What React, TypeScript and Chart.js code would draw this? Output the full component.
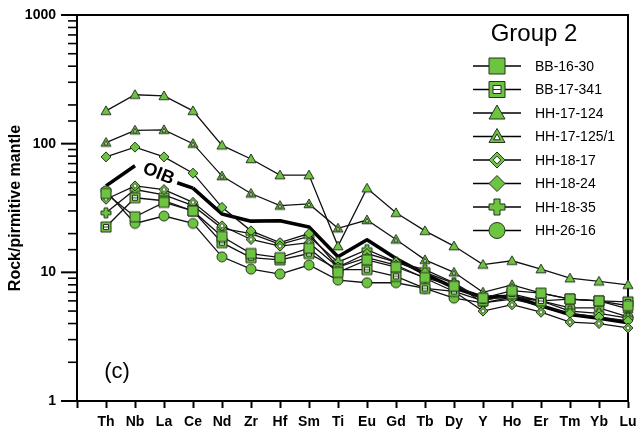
import React, { useEffect, useRef } from 'react';
import { Chart, registerables } from 'chart.js';

Chart.register(...registerables);

// ---------- data ----------
const elements = ['Th', 'Nb', 'La', 'Ce', 'Nd', 'Zr', 'Hf', 'Sm', 'Ti', 'Eu', 'Gd', 'Tb', 'Dy', 'Y', 'Ho', 'Er', 'Tm', 'Yb', 'Lu'];
const yTickLabels = [1, 10, 100, 1000];

const bb1630 = [41, 27, 35, 30, 19, 14, 13, 15.4, 10, 12.5, 11, 9.1, 7.8, 6.3, 7.2, 6.9, 6.2, 6, 5.5];
const bb17341 = [22.5, 38, 36, 30, 17, 13, 12.5, 14, 10.5, 10.5, 9.3, 7.5, 7.1, 6, 6.8, 6, 6.2, 6, 5.9];
const hh17124 = [180, 240, 235, 180, 97, 76, 57, 57, 16, 45, 29, 21, 16, 11.5, 12.3, 10.6, 9, 8.5, 8];
const hh171251 = [102, 127, 128, 100, 56, 41, 33, 34, 22, 25.5, 18, 12.5, 10, 7, 8, 6.9, 6.2, 6, 5.2];
const hh1817 = [37, 47, 44, 35, 23, 18, 16, 17, 11, 13, 11.4, 9, 7.1, 5, 5.6, 4.9, 4.1, 4, 3.7];
const hh1824 = [79, 94, 79, 59, 32, 21, 17, 20, 11, 14, 12, 10, 8.2, 5.8, 6.2, 5.5, 4.8, 4.5, 4.2];
const hh1835 = [29, 44, 40, 33, 22, 20, 16.5, 19, 12, 15, 12, 10.5, 8.3, 6.1, 6.6, 6, 5, 4.8, 4.4];
const hh2616 = [43, 24, 27.4, 24, 13.2, 10.6, 9.7, 11.4, 8.7, 8.3, 8.3, 7.5, 6.3, 5.8, 6.4, 6, 5.3, 5.3, 4.5];
const oib = [47, 67.4, 53.9, 45.1, 28.4, 25, 25.2, 22.5, 13.2, 17.9, 12.8, 9.7, 7.6, 6.4, 6.5, 5.5, 4.7, 4.4, 4.05];

const sampleNames = ['BB-16-30', 'BB-17-341', 'HH-17-124', 'HH-17-125/1', 'HH-18-17', 'HH-18-24', 'HH-18-35', 'HH-26-16'];
const sampleValues = [bb1630, bb17341, hh17124, hh171251, hh1817, hh1824, hh1835, hh2616];
const legendTitle = 'Group 2';
const oibLabel = 'OIB';
const panelLabel = '(c)';
const yTitle = 'Rock/pirmitive mantle';

// ---------- styles ----------
const sampleMarkers = ['square', 'squareHollow', 'triangle', 'triangleHollow', 'diamondHollow', 'diamond', 'plus', 'circle'];
const GREEN = '#6cc441';
const STROKE = '#27331f';
const FONT = "'Liberation Sans', Arial, Helvetica, sans-serif";

function drawMarker(ctx: CanvasRenderingContext2D, type: string, cx: number, cy: number, r: number) {
  ctx.save();
  ctx.fillStyle = GREEN;
  ctx.strokeStyle = STROKE;
  ctx.lineWidth = 1;
  ctx.lineJoin = 'miter';
  ctx.beginPath();
  if (type === 'square' || type === 'squareHollow') {
    ctx.rect(cx - r, cy - r, 2 * r, 2 * r);
  } else if (type === 'triangle' || type === 'triangleHollow') {
    ctx.moveTo(cx, cy - r);
    ctx.lineTo(cx + r, cy + r * 0.75);
    ctx.lineTo(cx - r, cy + r * 0.75);
    ctx.closePath();
  } else if (type === 'diamond' || type === 'diamondHollow') {
    ctx.moveTo(cx, cy - r);
    ctx.lineTo(cx + r, cy);
    ctx.lineTo(cx, cy + r);
    ctx.lineTo(cx - r, cy);
    ctx.closePath();
  } else if (type === 'plus') {
    const w = r * 0.38;
    ctx.moveTo(cx - w, cy - r);
    ctx.lineTo(cx + w, cy - r);
    ctx.lineTo(cx + w, cy - w);
    ctx.lineTo(cx + r, cy - w);
    ctx.lineTo(cx + r, cy + w);
    ctx.lineTo(cx + w, cy + w);
    ctx.lineTo(cx + w, cy + r);
    ctx.lineTo(cx - w, cy + r);
    ctx.lineTo(cx - w, cy + w);
    ctx.lineTo(cx - r, cy + w);
    ctx.lineTo(cx - r, cy - w);
    ctx.lineTo(cx - w, cy - w);
    ctx.closePath();
  } else {
    ctx.arc(cx, cy, r, 0, Math.PI * 2);
  }
  ctx.fill();
  ctx.stroke();
  ctx.fillStyle = '#fff';
  if (type === 'squareHollow') {
    const s = r * 0.5;
    ctx.beginPath();
    ctx.rect(cx - s, cy - s, 2 * s, 2 * s);
    ctx.fill();
    ctx.stroke();
    ctx.beginPath();
    ctx.moveTo(cx - s, cy);
    ctx.lineTo(cx + s, cy);
    ctx.stroke();
  } else if (type === 'triangleHollow') {
    const k = 0.42;
    const gy = cy + r * 0.1667;
    ctx.beginPath();
    ctx.moveTo(cx, gy + (cy - r - gy) * k);
    ctx.lineTo(cx + r * k, gy + (cy + r * 0.75 - gy) * k);
    ctx.lineTo(cx - r * k, gy + (cy + r * 0.75 - gy) * k);
    ctx.closePath();
    ctx.fill();
    ctx.stroke();
  } else if (type === 'diamondHollow') {
    const s = r * 0.48;
    ctx.beginPath();
    ctx.moveTo(cx, cy - s);
    ctx.lineTo(cx + s, cy);
    ctx.lineTo(cx, cy + s);
    ctx.lineTo(cx - s, cy);
    ctx.closePath();
    ctx.fill();
    ctx.stroke();
  }
  ctx.restore();
}

function markerCanvas(type: string, r: number): HTMLCanvasElement {
  const size = Math.ceil(2 * r + 4);
  const c = document.createElement('canvas');
  c.width = size;
  c.height = size;
  const ctx = c.getContext('2d') as CanvasRenderingContext2D;
  drawMarker(ctx, type, size / 2, size / 2, r);
  return c;
}

const decorPlugin = {
  id: 'decor',
  beforeDatasetsDraw(chart: any) {
    const { ctx, chartArea: a, scales } = chart;
    const y = scales.y;
    ctx.save();
    ctx.strokeStyle = '#000';
    ctx.lineWidth = 2;
    ctx.beginPath();
    ctx.moveTo(a.left, a.top);
    ctx.lineTo(a.right, a.top);
    ctx.lineTo(a.right, a.bottom);
    ctx.stroke();
    y.ticks.forEach((t: any) => {
      const p = y.getPixelForValue(t.value);
      const lg = Math.log10(t.value);
      const major = Math.abs(lg - Math.round(lg)) < 1e-6;
      ctx.lineWidth = major ? 2 : 1.6;
      ctx.beginPath();
      ctx.moveTo(a.left - (major ? 16 : 9), p);
      ctx.lineTo(a.left, p);
      ctx.stroke();
    });
    ctx.restore();
  },
  afterDatasetsDraw(chart: any) {
    const { ctx, scales } = chart;
    const x = scales.x;
    const y = scales.y;
    const px = (x.getPixelForValue(2) + x.getPixelForValue(3)) / 2 + 9;
    const py = (y.getPixelForValue(oib[1]) + y.getPixelForValue(oib[2])) / 2 + 2;
    ctx.save();
    ctx.translate(px, py);
    ctx.rotate((22 * Math.PI) / 180);
    ctx.fillStyle = '#000';
    ctx.font = `bold 18px ${FONT}`;
    ctx.textAlign = 'center';
    ctx.textBaseline = 'middle';
    ctx.fillText(oibLabel, 0, 0);
    ctx.restore();
  },
  afterDraw(chart: any) {
    const { ctx, chartArea: a } = chart;
    ctx.save();
    // panel label
    ctx.fillStyle = '#000';
    ctx.font = `22px ${FONT}`;
    ctx.textAlign = 'center';
    ctx.textBaseline = 'middle';
    ctx.fillText(panelLabel, a.left + 40, a.bottom - 29);
    // legend
    ctx.font = `24px ${FONT}`;
    ctx.fillText(legendTitle, 534, 34);
    ctx.font = `14px ${FONT}`;
    ctx.textAlign = 'left';
    sampleNames.forEach((name, i) => {
      const ry = 66 + i * 23.5;
      ctx.strokeStyle = '#000';
      ctx.lineWidth = 1.5;
      ctx.beginPath();
      ctx.moveTo(473, ry);
      ctx.lineTo(521, ry);
      ctx.stroke();
      drawMarker(ctx, sampleMarkers[i], 497, ry, 8);
      ctx.fillStyle = '#000';
      ctx.fillText(name, 535, ry + 1);
    });
    ctx.restore();
  },
};

export default function App() {
  const ref = useRef<HTMLCanvasElement | null>(null);
  useEffect(() => {
    document.body.style.margin = '0';
    const canvas = ref.current;
    if (!canvas) return;
    const toPts = (arr: number[]) => arr.map((v, i) => ({ x: i + 1, y: v }));
    const datasets: any[] = [];
    sampleValues.forEach((vals, i) => {
      datasets.push({
        label: sampleNames[i],
        data: toPts(vals),
        borderColor: '#111',
        borderWidth: 1.3,
        pointStyle: markerCanvas(sampleMarkers[i], 5),
        pointRadius: 5,
        clip: false,
        tension: 0,
      });
    });
    datasets.push({
      label: oibLabel,
      data: toPts(oib),
      borderColor: '#000',
      borderWidth: 3.6,
      borderJoinStyle: 'round',
      pointRadius: 0,
      clip: false,
      tension: 0,
      segment: {
        borderColor: (c: any) => (c.p0DataIndex === 1 ? 'rgba(0,0,0,0)' : undefined),
        borderDash: (c: any) => (c.p0DataIndex === 2 ? [0, 14, 400] : undefined),
      },
    });

    const chart = new Chart(canvas, {
      type: 'line',
      data: { datasets },
      plugins: [decorPlugin],
      options: {
        responsive: false,
        animation: false,
        layout: { padding: { top: 15, right: 12, left: 0, bottom: 0 } },
        plugins: { legend: { display: false }, tooltip: { enabled: false } },
        scales: {
          x: {
            type: 'linear',
            min: 0,
            max: 19,
            afterFit: (s: any) => {
              s.height = 39;
              s.paddingLeft = 0;
              s.paddingRight = 0;
            },
            border: { display: true, width: 2, color: '#000' },
            grid: { drawOnChartArea: false, drawTicks: true, tickLength: 7, tickWidth: 2, tickColor: '#000' },
            ticks: {
              stepSize: 1,
              autoSkip: false,
              maxRotation: 0,
              padding: 6,
              color: '#000',
              font: { family: FONT, size: 14, weight: 'bold' },
              callback: (v: any) => elements[Number(v) - 1] ?? '',
            },
          },
          y: {
            type: 'logarithmic',
            min: 1,
            max: 1000,
            afterFit: (s: any) => {
              s.width = 77;
              s.paddingTop = 0;
              s.paddingBottom = 0;
            },
            border: { display: true, width: 2, color: '#000' },
            grid: { drawOnChartArea: false, drawTicks: false },
            title: {
              display: true,
              text: yTitle,
              color: '#000',
              font: { family: FONT, size: 16, weight: 'bold' },
              padding: { top: 6, bottom: 4 },
            },
            ticks: {
              autoSkip: false,
              padding: 21,
              color: '#000',
              font: { family: FONT, size: 14, weight: 'bold' },
              callback: (v: any) => (yTickLabels.includes(Number(v)) ? String(v) : ''),
            },
          },
        },
      },
    });
    return () => chart.destroy();
  }, []);

  return (
    <div style={{ position: 'absolute', left: 0, top: 0, width: 640, height: 440, background: '#fff' }}>
      <canvas ref={ref} width={640} height={440} style={{ display: 'block' }} />
    </div>
  );
}
